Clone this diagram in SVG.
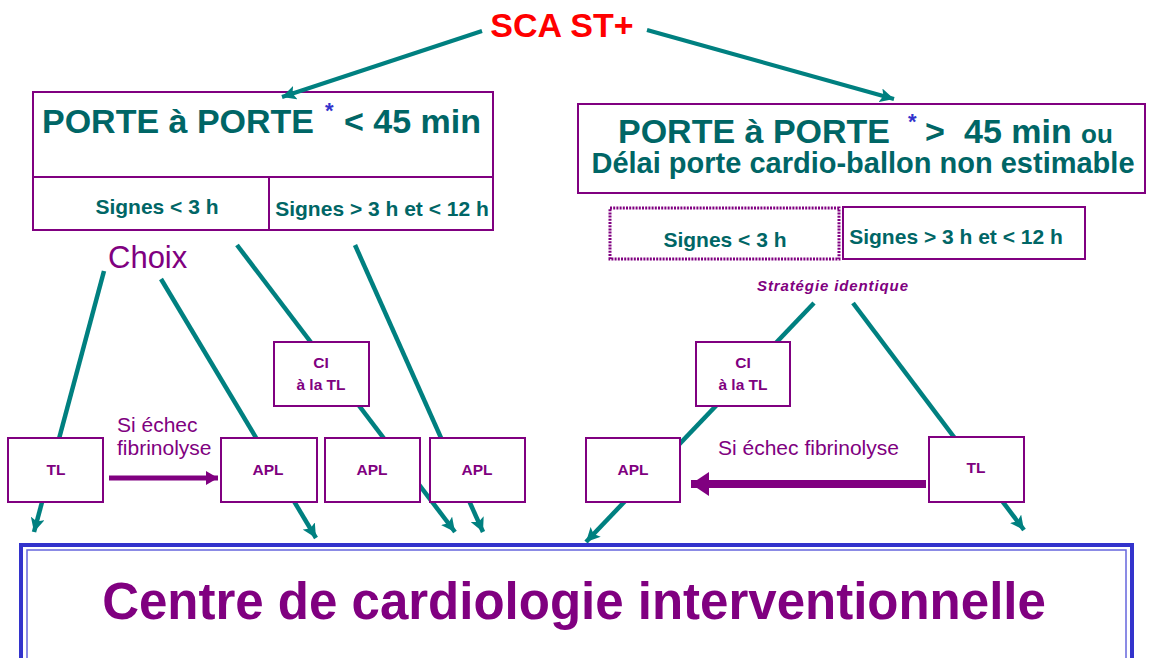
<svg xmlns="http://www.w3.org/2000/svg" width="1154" height="658" viewBox="0 0 1154 658">
<defs>
<style>
text{font-family:"Liberation Sans",Arial,sans-serif}
.box{fill:#fff;stroke:#800080;stroke-width:2}
.head{fill:#006666;font-weight:bold}
.sig{fill:#006666;font-weight:bold;font-size:21px}
.bt{fill:#800080;font-weight:bold;font-size:15.5px;text-anchor:middle}
.pl{fill:#800080;font-size:21px}
.ast{fill:#3333cc;font-weight:bold;font-size:22px}
.tl{stroke:#008080;stroke-width:4.5;fill:none;marker-end:url(#ah)}
</style>
<marker id="ah" markerUnits="userSpaceOnUse" markerWidth="16" markerHeight="14" refX="14" refY="7" orient="auto">
<path d="M0,0 L14,7 L0,14 L3,7 z" fill="#008080"/>
</marker>
<marker id="pa1" markerUnits="userSpaceOnUse" markerWidth="14" markerHeight="16" refX="12" refY="8" orient="auto">
<path d="M0,1 L12,8 L0,15 z" fill="#800080"/>
</marker>
<marker id="pa2" markerUnits="userSpaceOnUse" markerWidth="20" markerHeight="24" refX="18" refY="12" orient="auto">
<path d="M0,0 L18,12 L0,24 z" fill="#800080"/>
</marker>
</defs>
<rect width="1154" height="658" fill="#fff"/>

<g id="title">
<text x="562" y="37" text-anchor="middle" fill="#ff0000" font-weight="bold" font-size="34">SCA ST+</text>
</g>

<g id="porte-lt45">
<rect class="box" x="33" y="92" width="460" height="85"/>
<text class="head" x="42" y="133" font-size="34">PORTE à PORTE</text>
<text class="ast" x="325" y="118">*</text>
<text class="head" x="344" y="133" font-size="34">&lt; 45 min</text>
</g>
<g id="l-signes-lt3">
<rect class="box" x="33" y="177" width="236" height="53"/>
<text class="sig" x="157" y="214" text-anchor="middle">Signes &lt; 3 h</text>
</g>
<g id="l-signes-3-12">
<rect class="box" x="269" y="177" width="224" height="53"/>
<text class="sig" x="382" y="216" text-anchor="middle">Signes &gt; 3 h et &lt; 12 h</text>
</g>

<g id="porte-gt45">
<rect class="box" x="578" y="104" width="567" height="89"/>
<text class="head" x="618" y="143" font-size="34">PORTE à PORTE</text>
<text class="ast" x="908" y="129">*</text>
<text class="head" x="925" y="143" font-size="34">&gt;</text>
<text class="head" x="964" y="143" font-size="34">45 min</text>
<text class="head" x="1081" y="143" font-size="26">ou</text>
<text class="head" x="863" y="173" font-size="29" text-anchor="middle">Délai porte cardio-ballon non estimable</text>
</g>
<g id="r-signes-lt3">
<rect x="610" y="208" width="229" height="51" fill="#fff" stroke="#800080" stroke-width="3" stroke-dasharray="2 1.2"/>
<text class="sig" x="725" y="247" text-anchor="middle">Signes &lt; 3 h</text>
</g>
<g id="r-signes-3-12">
<rect class="box" x="843" y="207" width="242" height="52" stroke-width="1.5"/>
<text class="sig" x="956" y="244" text-anchor="middle">Signes &gt; 3 h et &lt; 12 h</text>
</g>

<g id="labels">
<text x="108" y="268" fill="#800080" font-size="31">Choix</text>
<text x="757" y="291" fill="#800080" font-size="15" font-weight="bold" font-style="italic" textLength="151">Stratégie  identique</text>
<text class="pl" x="117" y="432">Si échec</text>
<text class="pl" x="117" y="455">fibrinolyse</text>
<text class="pl" x="718" y="455">Si échec fibrinolyse</text>
</g>

<g id="connectors">
<line x1="482" y1="31" x2="282" y2="97" stroke="#008080" stroke-width="4" marker-end="url(#ah)"/>
<line x1="647" y1="30" x2="894" y2="99" stroke="#008080" stroke-width="4" marker-end="url(#ah)"/>
<line class="tl" x1="104" y1="271" x2="34" y2="532"/>
<line class="tl" x1="161" y1="279" x2="316" y2="538"/>
<line class="tl" x1="237" y1="245" x2="455" y2="532"/>
<line class="tl" x1="355" y1="245" x2="483" y2="532" stroke-width="6"/>
<line class="tl" x1="814" y1="303" x2="586" y2="542"/>
<line class="tl" x1="853" y1="303" x2="1024" y2="530"/>
<line x1="109" y1="478" x2="218" y2="478" stroke="#800080" stroke-width="5" marker-end="url(#pa1)"/>
<line x1="926" y1="484" x2="691" y2="484" stroke="#800080" stroke-width="8" marker-end="url(#pa2)"/>
</g>

<g id="l-tl"><rect class="box" x="8" y="438" width="95" height="64"/><text class="bt" x="56" y="475">TL</text></g>
<g id="l-ci"><rect class="box" x="274" y="342" width="95" height="64"/><text class="bt" x="321" y="368">CI</text><text class="bt" x="321" y="390">à  la TL</text></g>
<g id="l-apl1"><rect class="box" x="221" y="438" width="96" height="64"/><text class="bt" x="268" y="475">APL</text></g>
<g id="l-apl2"><rect class="box" x="325" y="438" width="95" height="64"/><text class="bt" x="372" y="475">APL</text></g>
<g id="l-apl3"><rect class="box" x="430" y="438" width="95" height="64"/><text class="bt" x="477" y="475">APL</text></g>
<g id="r-ci"><rect class="box" x="696" y="342" width="94" height="64"/><text class="bt" x="743" y="368">CI</text><text class="bt" x="743" y="390">à  la TL</text></g>
<g id="r-apl"><rect class="box" x="586" y="438" width="94" height="64"/><text class="bt" x="633" y="475">APL</text></g>
<g id="r-tl"><rect class="box" x="929" y="437" width="95" height="65"/><text class="bt" x="976" y="473">TL</text></g>

<g id="centre">
<rect x="21" y="545" width="1111" height="130" fill="#fff" stroke="#3333cc" stroke-width="4"/>
<rect x="27" y="550" width="1099" height="120" fill="none" stroke="#6666dd" stroke-width="1.5"/>
<text x="574" y="619" text-anchor="middle" fill="#800080" font-weight="bold" font-size="51">Centre de cardiologie interventionnelle</text>
</g>
</svg>
